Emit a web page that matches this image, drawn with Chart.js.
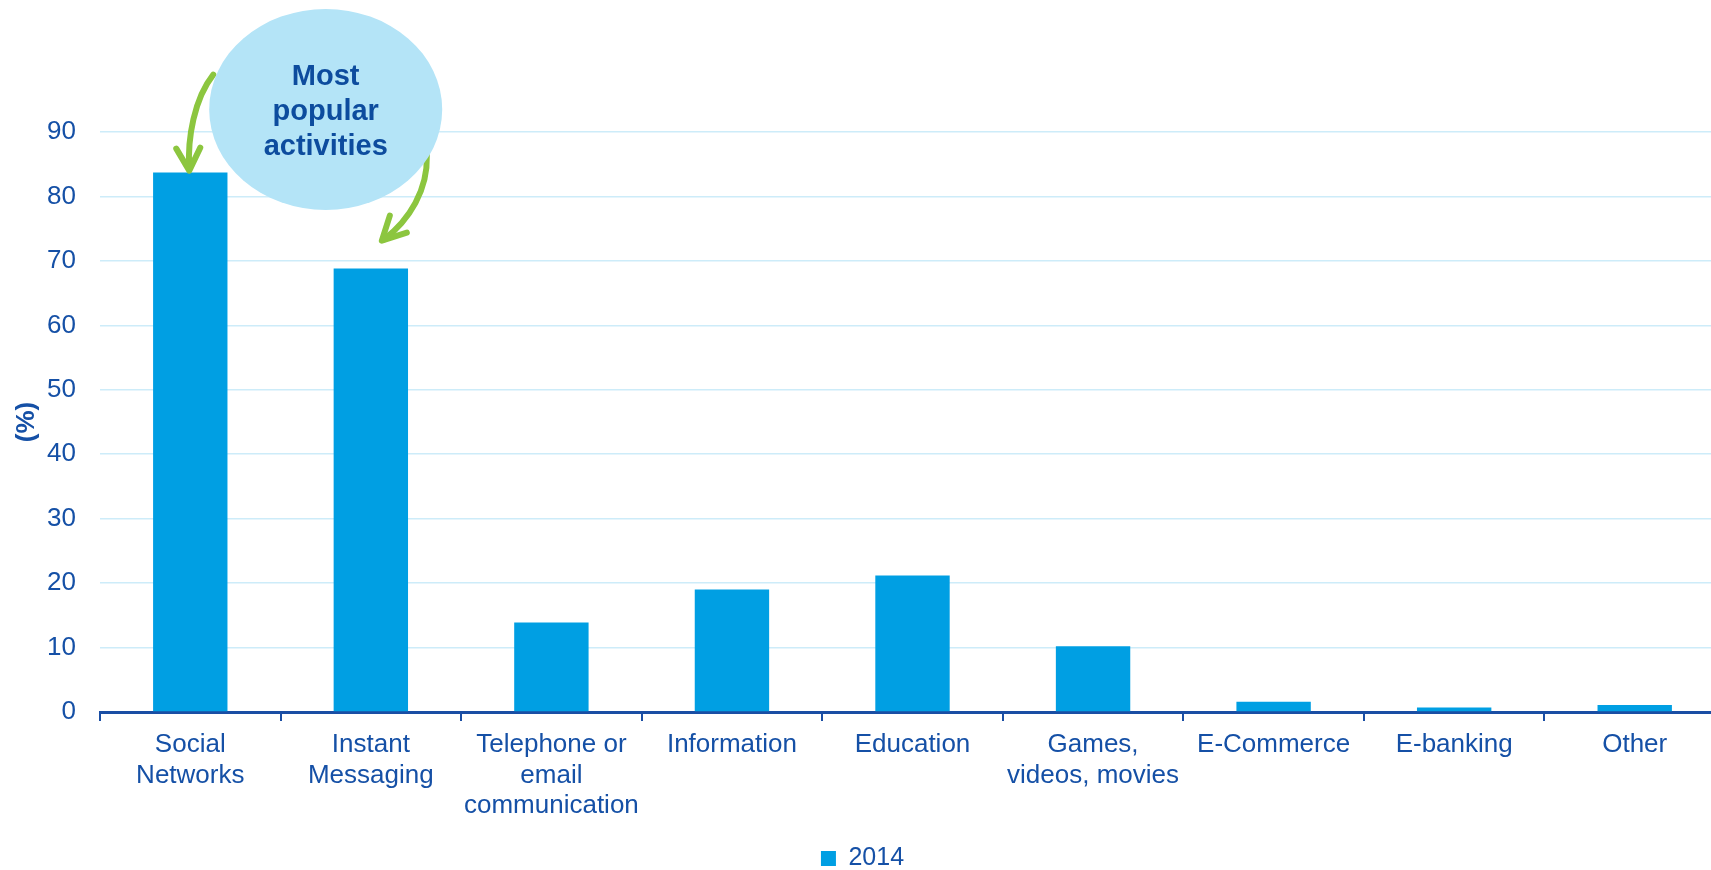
<!DOCTYPE html>
<html>
<head>
<meta charset="utf-8">
<title>Online activities</title>
<script src="https://cdn.jsdelivr.net/npm/chart.js@4/dist/chart.umd.min.js"></script>
<style>
  html, body { margin: 0; padding: 0; background: #fff; overflow: hidden; }
  canvas { display: block; }
</style>
</head>
<body>
<canvas id="myChart" width="1731" height="870"></canvas>
<script>
// activities and share of users (%)
const categories = [
    ['Social', 'Networks'],
    ['Instant', 'Messaging'],
    ['Telephone or', 'email', 'communication'],
    'Information',
    'Education',
    ['Games,', 'videos, movies'],
    'E-Commerce',
    'E-banking',
    'Other'
];
const values2014 = [83.7, 68.8, 13.9, 19.0, 21.2, 10.2, 1.6, 0.7, 1.1];
const seriesLabel = '2014';
const yTicks = [0, 10, 20, 30, 40, 50, 60, 70, 80, 90];
const bubbleLines = ['Most', 'popular', 'activities'];

const textBlue = '#1550a6';
const barBlue = '#009fe3';

// bubble with curved green arrows pointing at the two biggest bars
const calloutPlugin = {
    id: 'callout',
    afterDraw(chart) {
        const ctx = chart.ctx;
        const x = chart.scales.x, y = chart.scales.y;
        const bx0 = x.getPixelForValue(0), bx1 = x.getPixelForValue(1);
        const top0 = y.getPixelForValue(values2014[0]);
        const top1 = y.getPixelForValue(values2014[1]);

        ctx.save();
        ctx.strokeStyle = '#8cc63f';
        ctx.lineWidth = 6;
        ctx.lineCap = 'round';
        ctx.lineJoin = 'round';

        // arrow to Social Networks
        let tx = bx0 - 1, ty = top0 - 2;
        ctx.beginPath();
        ctx.moveTo(tx + 24, ty - 96);
        ctx.bezierCurveTo(tx + 5, ty - 72, tx - 2, ty - 32, tx, ty - 2);
        ctx.stroke();
        ctx.beginPath();
        ctx.moveTo(tx - 13, ty - 22);
        ctx.lineTo(tx, ty);
        ctx.lineTo(tx + 11, ty - 23);
        ctx.stroke();

        // arrow to Instant Messaging
        tx = bx1 + 11; ty = top1 - 28;
        ctx.beginPath();
        ctx.moveTo(tx + 45, ty - 85);
        ctx.bezierCurveTo(tx + 46, ty - 51, tx + 28, ty - 21, tx + 2, ty - 1);
        ctx.stroke();
        ctx.beginPath();
        ctx.moveTo(tx + 8, ty - 25);
        ctx.lineTo(tx, ty);
        ctx.lineTo(tx + 25, ty - 8);
        ctx.stroke();

        // the bubble
        const cx = bx0 + 0.75 * (bx1 - bx0);
        const cy = y.getPixelForValue(93.5);
        ctx.fillStyle = '#b4e4f7';
        ctx.beginPath();
        ctx.ellipse(cx, cy, 116.5, 100.5, 0, 0, Math.PI * 2);
        ctx.fill();

        ctx.fillStyle = '#0d4c9e';
        ctx.font = 'bold 29px "Liberation Sans", Arial, sans-serif';
        ctx.textAlign = 'center';
        ctx.textBaseline = 'alphabetic';
        bubbleLines.forEach(function (line, i) {
            ctx.fillText(line, cx, cy - 24 + i * 35);
        });
        ctx.restore();
    }
};

const ctx = document.getElementById('myChart').getContext('2d');
const myChart = new Chart(ctx, {
    type: 'bar',
    data: {
        labels: categories,
        datasets: [{
            label: seriesLabel,
            data: values2014,
            backgroundColor: barBlue,
            borderWidth: 0,
            barPercentage: 0.412,
            categoryPercentage: 1
        }]
    },
    options: {
        responsive: false,
        animation: false,
        layout: {
            padding: { top: 132, right: 6, left: 0, bottom: -11 }
        },
        scales: {
            x: {
                z: 1,
                grid: {
                    offset: true,
                    drawOnChartArea: false,
                    drawTicks: true,
                    tickLength: 9,
                    color: '#1a4ea4',
                    lineWidth: 2
                },
                border: { display: true, color: '#1a4ea4', width: 3 },
                ticks: {
                    color: textBlue,
                    font: { family: '"Liberation Sans", Arial, sans-serif', size: 26, lineHeight: 1.17 },
                    padding: 9,
                    autoSkip: false,
                    maxRotation: 0,
                    minRotation: 0
                },
                afterFit: function (axis) { axis.height = 134; }
            },
            y: {
                min: 0,
                max: 90,
                afterBuildTicks: function (axis) {
                    axis.ticks = yTicks.map(function (v) { return { value: v }; });
                },
                grid: {
                    color: '#cdecf9',
                    lineWidth: 1.5,
                    drawTicks: false
                },
                border: { display: false },
                ticks: {
                    color: textBlue,
                    font: { family: '"Liberation Sans", Arial, sans-serif', size: 26 },
                    padding: 24
                },
                title: {
                    display: true,
                    text: '(%)',
                    color: textBlue,
                    font: { family: '"Liberation Sans", Arial, sans-serif', size: 26, weight: 'bold', lineHeight: 1.2 },
                    padding: { top: 11, bottom: 0 }
                },
                afterFit: function (axis) { axis.width = 100; }
            }
        },
        plugins: {
            legend: {
                position: 'bottom',
                labels: {
                    color: textBlue,
                    boxWidth: 15,
                    boxHeight: 15,
                    padding: 0,
                    font: { family: '"Liberation Sans", Arial, sans-serif', size: 25 }
                }
            },
            tooltip: { enabled: false }
        }
    },
    plugins: [calloutPlugin]
});
</script>
</body>
</html>
